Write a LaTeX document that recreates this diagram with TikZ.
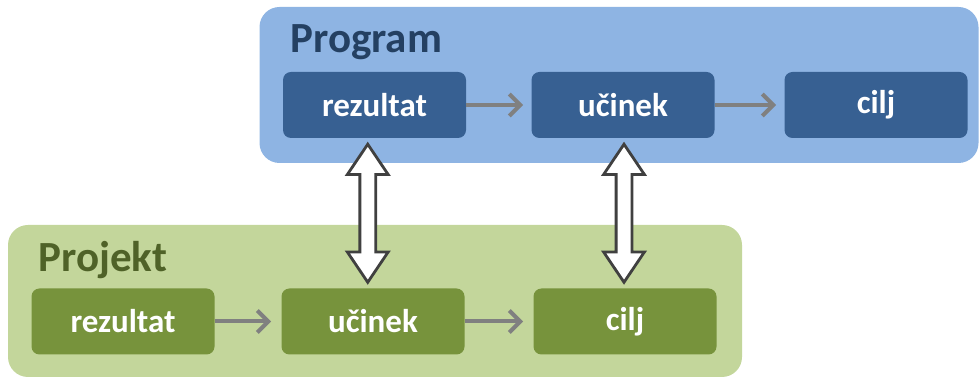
\documentclass[tikz,border=0pt]{standalone}
\usepackage{fontspec}
\setmainfont{Carlito}
\usetikzlibrary{shapes.arrows, positioning, calc, arrows.meta}

\definecolor{progout}{HTML}{8EB4E3}
\definecolor{progin}{HTML}{376092}
\definecolor{progtxt}{HTML}{244062}
\definecolor{projout}{HTML}{C3D69B}
\definecolor{projin}{HTML}{77933C}
\definecolor{projtxt}{HTML}{4F6228}
\definecolor{flowgray}{HTML}{808080}
\definecolor{dblline}{HTML}{404040}

\tikzset{
  outerbox/.style={rounded corners=10pt, inner sep=0pt, minimum width=#1},
  innerbox/.style={rounded corners=4pt, inner sep=0pt, minimum width=91.5pt, minimum height=33pt,
    text=white, font=\fontsize{16.5}{18}\selectfont\bfseries},
  boxlabel/.style={anchor=base west, inner sep=0pt, font=\fontsize{21.5}{24}\selectfont\bfseries},
  flow/.style={flowgray, line width=2pt, -{Straight Barb[length=5.5pt, width=11pt]}},
  twoway/.style={double arrow, draw=dblline, fill=white, line width=1.4pt, rotate=90,
    inner sep=3.25pt, minimum height=69pt, double arrow head extend=6.25pt,
    double arrow tip angle=68}
}

\begin{document}
\begin{tikzpicture}[x=0.5pt, y=-0.5pt]
      \useasboundingbox (0, 0) rectangle (979, 378);

      % outer frames
      \node[outerbox=359.5pt, minimum height=78pt, fill=progout] (prog) at (619, 85) {};
      \node[outerbox=367pt, minimum height=76pt, fill=projout] (proj) at (375, 301) {};

      \node[boxlabel, text=progtxt] (proglabel) at (290, 53) {Program};
      \node[boxlabel, text=projtxt] (projlabel) at (38, 272) {Projekt};

      % program row
      \node[innerbox, fill=progin] (pr1) at (374.5, 105) {rezultat};
      \node[innerbox, fill=progin] (pr2) at (623, 105) {učinek};
      \node[innerbox, fill=progin] (pr3) at (876, 105) {cilj};

      % project row
      \node[innerbox, fill=projin] (pj1) at (123, 321.5) {rezultat};
      \node[innerbox, fill=projin] (pj2) at (373, 321.5) {učinek};
      \node[innerbox, fill=projin] (pj3) at (625, 321.5) {cilj};

      \draw[flow, shorten >=4pt] (pr1) -- (pr2);
      \draw[flow, shorten >=4pt] (pr2) -- (pr3);
      \draw[flow, shorten >=5pt] (pj1) -- (pj2);
      \draw[flow, shorten >=5pt] (pj2) -- (pj3);

      % links between the rows
      \node[twoway] (link1) at ($(pr1.south)!0.5!(pj2.north) + (-6, 0)$) {};
      \node[twoway] (link2) at ($(pr2.south)!0.5!(pj3.north)$) {};

    \end{tikzpicture}
\end{document}
